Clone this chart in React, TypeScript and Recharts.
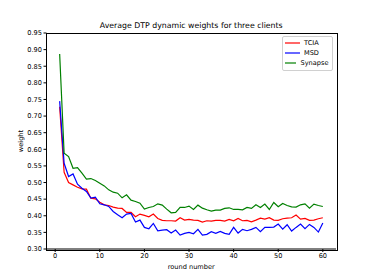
import { LineChart, Line, XAxis, YAxis } from "recharts";

const TITLE = "Average DTP dynamic weights for three clients";
const ROUNDS = Array.from({ length: 60 }, (_, i) => i + 1);

const TCIA = [
  0.728, 0.531, 0.5, 0.493, 0.486, 0.481, 0.48, 0.453, 0.451, 0.441,
  0.433, 0.431, 0.426, 0.423, 0.422, 0.41, 0.41, 0.397, 0.405, 0.401,
  0.397, 0.405, 0.392, 0.386, 0.385, 0.385, 0.384, 0.394, 0.387, 0.389,
  0.387, 0.386, 0.381, 0.385, 0.384, 0.386, 0.386, 0.384, 0.389, 0.385,
  0.392, 0.385, 0.386, 0.382, 0.387, 0.393, 0.39, 0.394, 0.387, 0.386,
  0.391, 0.393, 0.394, 0.402, 0.39, 0.392, 0.386, 0.387, 0.391, 0.394,
];

const MSD = [
  0.745, 0.558, 0.518, 0.526, 0.495, 0.483, 0.473, 0.453, 0.456, 0.436,
  0.433, 0.428, 0.413, 0.403, 0.394, 0.405, 0.407, 0.381, 0.387, 0.365,
  0.361, 0.377, 0.355, 0.357, 0.358, 0.348, 0.357, 0.342, 0.347, 0.35,
  0.346, 0.359, 0.342, 0.344, 0.352, 0.347, 0.353, 0.347, 0.344, 0.365,
  0.348, 0.359, 0.355, 0.359, 0.365, 0.352, 0.365, 0.365, 0.366, 0.375,
  0.36, 0.373, 0.354, 0.365, 0.375, 0.361, 0.374, 0.365, 0.351, 0.378,
];

const SYNAPSE = [
  0.887, 0.588, 0.578, 0.543, 0.545, 0.528, 0.51, 0.512, 0.506, 0.498,
  0.49, 0.478, 0.471, 0.468, 0.454, 0.463, 0.447, 0.443, 0.438, 0.42,
  0.425, 0.428, 0.436, 0.432, 0.42, 0.409, 0.41, 0.425, 0.425, 0.429,
  0.419, 0.432, 0.423, 0.418, 0.414, 0.417, 0.417, 0.422, 0.424, 0.419,
  0.419, 0.418, 0.425, 0.422, 0.433, 0.425, 0.435, 0.419, 0.44, 0.427,
  0.437, 0.431, 0.427, 0.426, 0.433, 0.436, 0.423, 0.435, 0.431, 0.428,
];

const X_TICKS = [0, 10, 20, 30, 40, 50, 60];
const Y_TICKS = [0.3, 0.35, 0.4, 0.45, 0.5, 0.55, 0.6, 0.65, 0.7, 0.75, 0.8, 0.85, 0.9, 0.95];

const SERIES = [
  { key: "TCIA", color: "#ff0000" },
  { key: "MSD", color: "#0000ff" },
  { key: "Synapse", color: "#008000" },
];

const data = ROUNDS.map((r, i) => ({ round: r, TCIA: TCIA[i], MSD: MSD[i], Synapse: SYNAPSE[i] }));

const FONT = "'DejaVu Sans', sans-serif";
const tickStyle = { fontSize: 6.6, fill: "#000", fontFamily: FONT };

// plot box edges in px (matches the chart margins below)
const PLOT = { left: 46.5, top: 33, right: 336, bottom: 249 };

function LegendBox() {
  // drawn in series order, like matplotlib
  return (
    <div
      style={{
        position: "absolute",
        top: 35.5,
        left: 281.5,
        border: "1px solid #d0d0d0",
        borderRadius: 2,
        background: "#fff",
        padding: "2px 3px 2px 2px",
        fontFamily: FONT,
        fontSize: 6.6,
        color: "#000",
        width: 44,
        boxSizing: "content-box",
      }}
    >
      {SERIES.map((s) => (
        <div key={s.key} style={{ display: "flex", alignItems: "center", height: 9.7 }}>
          <svg width={15} height={4} style={{ marginRight: 4.5 }}>
            <line x1={0} y1={2} x2={15} y2={2} stroke={s.color} strokeWidth={1.2} />
          </svg>
          <span>{s.key}</span>
        </div>
      ))}
    </div>
  );
}

export default function App() {
  return (
    <div style={{ position: "absolute", left: 0, top: 0, width: 374, height: 280, background: "#fff" }}>
      <div
        style={{
          position: "absolute",
          left: PLOT.left,
          width: PLOT.right - PLOT.left,
          top: 22,
          textAlign: "center",
          fontFamily: FONT,
          fontSize: 7.8,
          lineHeight: 1,
          color: "#000",
        }}
      >
        {TITLE}
      </div>
      <LineChart width={374} height={280} data={data} margin={{ top: 33, right: 38, bottom: 0, left: 0.5 }}>
        <XAxis
          dataKey="round"
          type="number"
          domain={[-1.95, 62.95]}
          ticks={X_TICKS}
          allowDataOverflow
          height={31}
          tickSize={3}
          tickMargin={1}
          stroke="#000"
          tick={tickStyle}
          label={{ value: "round number", position: "insideBottom", offset: 11, fill: "#000", style: { ...tickStyle } }}
        />
        <YAxis
          type="number"
          domain={[0.3, 0.95]}
          ticks={Y_TICKS}
          allowDataOverflow
          width={46}
          tickSize={3}
          tickMargin={1.5}
          stroke="#000"
          tick={tickStyle}
          tickFormatter={(v: number) => v.toFixed(2)}
          label={{ value: "weight", angle: -90, position: "insideLeft", offset: 0, dx: 20, fill: "#000", style: { ...tickStyle, textAnchor: "middle" } }}
        />
        {SERIES.map((s) => (
          <Line
            key={s.key}
            dataKey={s.key}
            name={s.key}
            type="linear"
            stroke={s.color}
            strokeWidth={1.2}
            dot={false}
            activeDot={false}
            isAnimationActive={false}
          />
        ))}
      </LineChart>
      <div
        style={{
          position: "absolute",
          left: PLOT.left - 0.5,
          top: PLOT.top - 0.5,
          width: PLOT.right - PLOT.left,
          height: PLOT.bottom - PLOT.top,
          border: "1px solid #000",
          pointerEvents: "none",
        }}
      />
      <LegendBox />
    </div>
  );
}
